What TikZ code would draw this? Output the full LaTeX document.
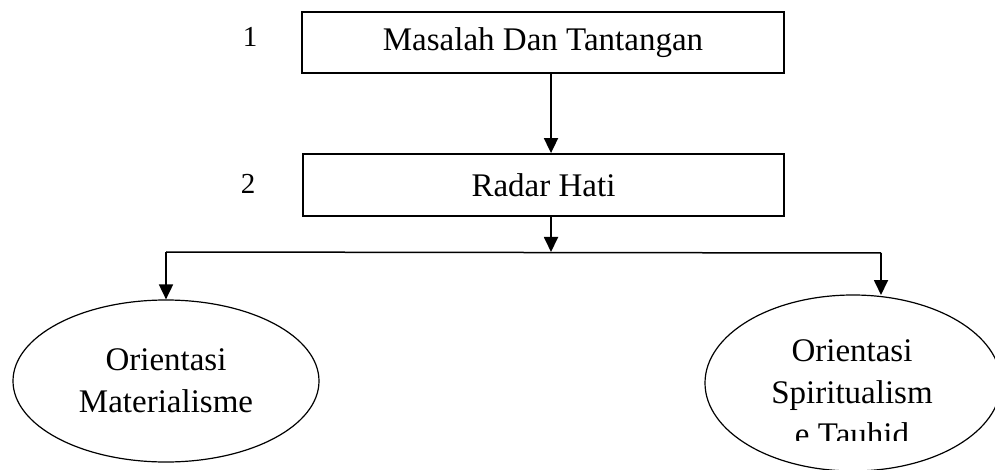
\documentclass[tikz,border=0pt]{standalone}
\usepackage{fontspec}
\setmainfont{Liberation Serif}
\usetikzlibrary{arrows.meta,shapes.geometric}
\begin{document}
\begin{tikzpicture}[x=1pt,y=-1pt,
  stagebox/.style={draw,line width=1.8pt,rectangle,inner sep=0pt,
    font=\fontsize{33}{42}\selectfont},
  orient/.style={draw,line width=1.2pt,ellipse,inner sep=0pt,align=center,
    font=\fontsize{33}{42}\selectfont},
  numlabel/.style={font=\fontsize{29}{32}\selectfont},
  flow/.style={line width=1.8pt,-{Triangle[width=14pt,length=15pt]}},
  branch/.style={line width=1.5pt}]
\useasboundingbox (0,0) rectangle (995,470);
\clip (0,0) rectangle (995,470);

% stages
\node[stagebox,minimum width=482pt,minimum height=61pt] (masalah) at (543,42.5) {Masalah Dan Tantangan};
\node[stagebox,minimum width=481pt,minimum height=62pt] (hati) at (543.5,185) {Radar Hati};
\node[numlabel] (n1) at (250,37) {1};
\node[numlabel] (n2) at (248,184) {2};

% orientations
\node[orient,minimum width=306pt,minimum height=162pt] (materi) at (166,381) {Orientasi\\Materialisme};
\node[orient,minimum width=296pt,minimum height=176pt] (spirit) at (853,383) {};
\begin{scope}
  \clip (700,300) rectangle (1000,440);
  \node[align=center,inner sep=0pt,font=\fontsize{33}{42}\selectfont] (spirittext) at (852,393)
    {Orientasi\\Spiritualism\\e Tauhid};
\end{scope}

% connectors
\coordinate (split) at (551,252);
\coordinate (leftend) at (166,252);
\coordinate (rightend) at (881,253);
\coordinate (spirittop) at (881,295);
\draw[flow] (masalah.south -| split) -- (hati.north -| split);
\draw[flow] (hati.south -| split) -- (split);
\draw[branch] (leftend) -- (rightend);
\draw[flow] (leftend) -- (materi.north);
\draw[flow] (rightend) -- (spirittop);
\end{tikzpicture}
\end{document}
